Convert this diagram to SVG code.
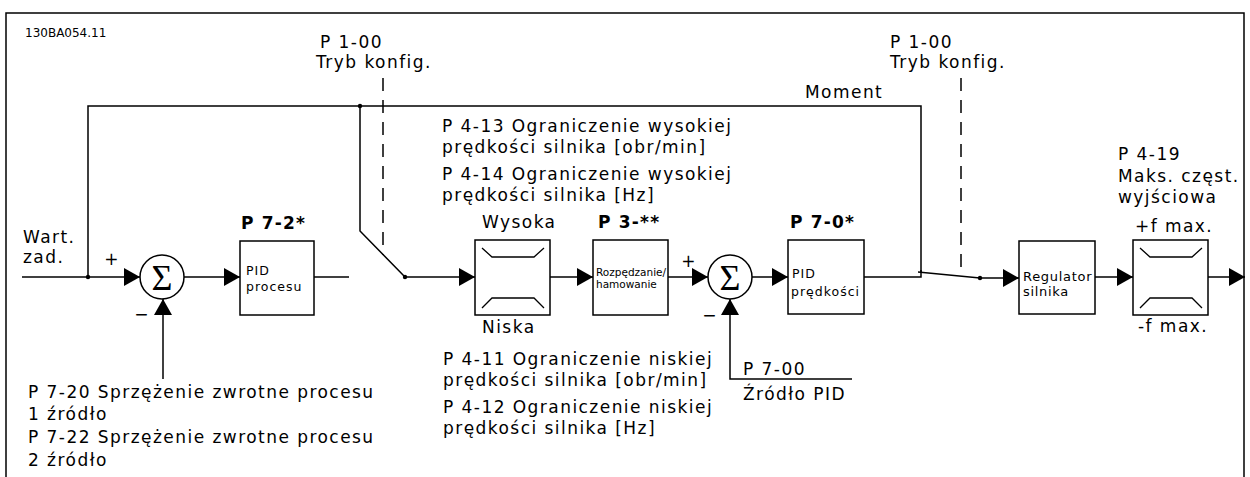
<svg xmlns="http://www.w3.org/2000/svg" width="1250" height="477" viewBox="0 0 1250 477">
<style>
.ln{fill:none;stroke:#000;stroke-width:1.5}
.dash{fill:none;stroke:#000;stroke-width:1.5;stroke-dasharray:13 9}
.bx{fill:#fff;stroke:#000;stroke-width:1.5}
.lim{fill:none;stroke:#000;stroke-width:1.3}
.t{font-family:"DejaVu Sans",Verdana,sans-serif;font-size:17px;letter-spacing:1.45px;fill:#000}
.b{font-family:"DejaVu Sans",Verdana,sans-serif;font-size:17px;letter-spacing:1.2px;font-weight:bold;fill:#000}
.s{font-family:"DejaVu Sans",Verdana,sans-serif;font-size:12.5px;letter-spacing:1px;fill:#000}
.r{font-family:"DejaVu Sans",Verdana,sans-serif;font-size:13px;letter-spacing:0.7px;fill:#000}
.rz{font-family:"DejaVu Sans",Verdana,sans-serif;font-size:10.5px;fill:#000}
.sig{font-family:"Liberation Serif","DejaVu Serif",serif;font-size:36px;fill:#000}
.id{font-family:"DejaVu Sans",Verdana,sans-serif;font-size:12px;fill:#000}
</style>
<defs>
<marker id="ah" markerUnits="userSpaceOnUse" markerWidth="16" markerHeight="18" refX="16" refY="9" orient="auto">
<path d="M0,0 L16,9 L0,18 z" fill="#000"/>
</marker>
<g id="limiter">
<path class="lim" d="M7,8 L17,17 L59,17 L69,8"/>
<path class="lim" d="M7,68 L17,58 L59,58 L69,68"/>
</g>
</defs>
<rect width="1250" height="477" fill="#fff"/>
<path class="ln" d="M6,480 V13 H1244 V480"/>
<text class="id" x="25" y="37">130BA054.11</text>

<g id="connectors">
<path class="ln" d="M22,277 H140" marker-end="url(#ah)"/>
<path class="ln" d="M88,277 V106 H921 V272"/>
<path class="ln" d="M163,379 V299" marker-end="url(#ah)"/>
<path class="ln" d="M184,277 H240" marker-end="url(#ah)"/>
<path class="ln" d="M314,277 H349"/>
<path class="ln" d="M360,106 V231 L405,277"/>
<path class="ln" d="M405,277 H475" marker-end="url(#ah)"/>
<path class="ln" d="M550,277 H593" marker-end="url(#ah)"/>
<path class="ln" d="M668,277 H708" marker-end="url(#ah)"/>
<path class="ln" d="M752,277 H788" marker-end="url(#ah)"/>
<path class="ln" d="M852,379 H730 V299" marker-end="url(#ah)"/>
<path class="ln" d="M864,277 H921 V270"/>
<path class="ln" d="M918,272 L980,278"/>
<path class="ln" d="M980,278 H1019" marker-end="url(#ah)"/>
<path class="ln" d="M1095,277 H1133" marker-end="url(#ah)"/>
<path class="ln" d="M1208,277 H1245" marker-end="url(#ah)"/>
<path class="dash" d="M383,78 V255"/>
<path class="dash" d="M961,78 V274"/>
<circle cx="88" cy="277" r="2.2"/>
<circle cx="360" cy="106" r="2.2"/>
<circle cx="405" cy="277" r="2.2"/>
<circle cx="980" cy="278" r="2.2"/>
</g>

<g id="labels">
<text class="t" x="320" y="48">P 1-00</text>
<text class="t" x="316" y="68">Tryb konfig.</text>
<text class="t" x="890" y="48">P 1-00</text>
<text class="t" x="890" y="68">Tryb konfig.</text>
<text class="t" x="805" y="98">Moment</text>
<text class="t" x="23" y="243">Wart.</text>
<text class="t" x="23" y="263">zad.</text>
<text class="t" x="442" y="132">P 4-13 Ograniczenie wysokiej</text>
<text class="t" x="442" y="153">prędkości silnika [obr/min]</text>
<text class="t" x="442" y="180">P 4-14 Ograniczenie wysokiej</text>
<text class="t" x="442" y="201">prędkości silnika [Hz]</text>
<text class="t" x="443" y="365">P 4-11 Ograniczenie niskiej</text>
<text class="t" x="443" y="386">prędkości silnika [obr/min]</text>
<text class="t" x="443" y="413">P 4-12 Ograniczenie niskiej</text>
<text class="t" x="443" y="434">prędkości silnika [Hz]</text>
<text class="t" x="28" y="398">P 7-20 Sprzężenie zwrotne procesu</text>
<text class="t" x="28" y="420">1 źródło</text>
<text class="t" x="28" y="443">P 7-22 Sprzężenie zwrotne procesu</text>
<text class="t" x="28" y="466">2 źródło</text>
<text class="t" x="743" y="375">P 7-00</text>
<text class="t" x="743" y="400">Źródło PID</text>
<text class="t" x="1118" y="160">P 4-19</text>
<text class="t" x="1118" y="182">Maks. częst.</text>
<text class="t" x="1118" y="203">wyjściowa</text>
</g>

<g id="sum1">
<circle cx="162" cy="277" r="22" fill="#fff" stroke="#000" stroke-width="1.5"/>
<text class="sig" x="162" y="290" text-anchor="middle">Σ</text>
<text class="t" x="112" y="265" text-anchor="middle">+</text>
<text class="t" x="142" y="320" text-anchor="middle">−</text>
</g>

<g id="pid-procesu">
<text class="b" x="241" y="229">P 7-2*</text>
<rect class="bx" x="240" y="241" width="74" height="74"/>
<text class="s" x="246" y="275">PID</text>
<text class="s" x="246" y="291">procesu</text>
</g>

<g id="limiter-speed">
<text class="t" x="482" y="228">Wysoka</text>
<rect class="bx" x="475" y="240" width="75" height="75"/>
<use href="#limiter" x="475" y="240"/>
<text class="t" x="482" y="333">Niska</text>
</g>

<g id="ramp">
<text class="b" x="598" y="228">P 3-**</text>
<rect class="bx" x="593" y="240" width="75" height="75"/>
<text class="rz" x="596" y="276">Rozpędzanie/</text>
<text class="rz" x="596" y="288">hamowanie</text>
</g>

<g id="sum2">
<circle cx="730" cy="277" r="22" fill="#fff" stroke="#000" stroke-width="1.5"/>
<text class="sig" x="730" y="290" text-anchor="middle">Σ</text>
<text class="t" x="689" y="267" text-anchor="middle">+</text>
<text class="t" x="710" y="321" text-anchor="middle">−</text>
</g>

<g id="pid-predkosci">
<text class="b" x="790" y="228">P 7-0*</text>
<rect class="bx" x="788" y="240" width="76" height="74"/>
<text class="s" x="792" y="278">PID</text>
<text class="s" x="791" y="296">prędkości</text>
</g>

<g id="regulator">
<rect class="bx" x="1019" y="241" width="76" height="73"/>
<text class="r" x="1023" y="281">Regulator</text>
<text class="r" x="1023" y="296">silnika</text>
</g>

<g id="limiter-freq">
<text class="t" x="1135" y="232">+f max.</text>
<rect class="bx" x="1133" y="240" width="75" height="75"/>
<use href="#limiter" x="1133" y="240"/>
<text class="t" x="1138" y="332">-f max.</text>
</g>
</svg>
